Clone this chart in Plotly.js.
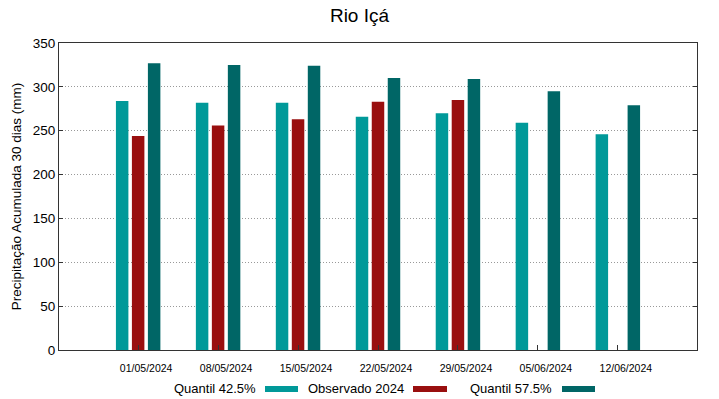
<!DOCTYPE html>
<html>
<head>
<meta charset="utf-8">
<script src="https://cdn.plot.ly/plotly-3.0.1.min.js"></script>
<style>html,body{margin:0;padding:0;background:#fff;}#chart{width:719px;height:399px;}</style>
</head>
<body>
<div id="chart"></div>
<script>
const dates = ["01/05/2024","08/05/2024","15/05/2024","22/05/2024","29/05/2024","05/06/2024","12/06/2024"];
const quantil425 = [284, 282, 282, 266, 270, 259, 246];
const observado2024 = [244, 256, 263, 283, 285, null, null];
const quantil575 = [327, 325, 324, 310, 309, 295, 279];
const seriesNames = ["Quantil 42.5%", "Observado 2024", "Quantil 57.5%"];
const colors = ["#009999", "#990f0f", "#006666"];

const F = "Liberation Sans, Arial, sans-serif";
const traces = [quantil425, observado2024, quantil575].map((vals, i) => ({
  type: "bar",
  x: dates,
  y: vals,
  name: seriesNames[i],
  marker: {color: colors[i], line: {width: 0}},
  showlegend: false
}));

// legend drawn gnuplot-style: label then swatch (pixel positions converted to paper)
const legX = [[258, 265, 298], [406, 413, 447], [554, 562, 595]];
const px = v => (v - 59) / 638;
const py = v => (350 - v) / 307;
const annotations = [];
const shapes = [];
legX.forEach((p, i) => {
  annotations.push({xref: "paper", yref: "paper", x: px(p[0]), y: py(388),
    text: seriesNames[i], showarrow: false, xanchor: "right", yanchor: "middle",
    font: {family: F, size: 13, color: "#000"}});
  shapes.push({type: "rect", xref: "paper", yref: "paper",
    x0: px(p[1]), x1: px(p[2]), y0: py(386), y1: py(392),
    fillcolor: colors[i], line: {width: 0}});
});

const layout = {
  width: 719, height: 399,
  margin: {l: 59, r: 22, t: 43, b: 49},
  paper_bgcolor: "#fff", plot_bgcolor: "#fff",
  title: {text: "Rio Içá", font: {family: F, size: 19, color: "#000"}, x: 0.5, xanchor: "center", y: 0.962, yanchor: "middle"},
  barmode: "group",
  bargap: 0.4,
  bargroupgap: 0.22,
  font: {family: F, color: "#000"},
  xaxis: {
    type: "category", range: [-0.99, 6.99],
    showline: true, linecolor: "#333", linewidth: 1, mirror: true,
    ticks: "inside", ticklen: 5, tickcolor: "#333",
    showgrid: false, zeroline: false,
    tickfont: {family: F, size: 10.5, color: "#000"},
    ticklabelshift: 8, ticklabelstandoff: 8
  },
  yaxis: {
    range: [0, 350], dtick: 50,
    showline: true, linecolor: "#333", linewidth: 1, mirror: "ticks",
    ticks: "inside", ticklen: 4, tickcolor: "#333",
    showgrid: true, gridcolor: "#999", griddash: "1px,2px", gridwidth: 1,
    zeroline: false,
    tickfont: {family: F, size: 13.5, color: "#000"},
    title: {text: "Precipitação Acumulada 30 dias (mm)", font: {family: F, size: 13.5, color: "#000"}, standoff: 8}
  },
  annotations: annotations,
  shapes: shapes
};

Plotly.newPlot("chart", traces, layout, {displayModeBar: false, staticPlot: true});
</script>
</body>
</html>
